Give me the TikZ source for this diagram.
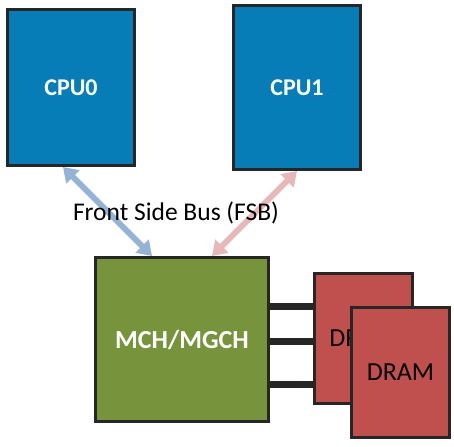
\documentclass[tikz,border=0pt]{standalone}
\usepackage{fontspec}
\setmainfont{Carlito}
\usetikzlibrary{arrows.meta}

\definecolor{cpublue}{HTML}{077DB8}
\definecolor{mchgreen}{HTML}{77933C}
\definecolor{dramred}{HTML}{C0504D}
\definecolor{edgegray}{HTML}{262626}
\definecolor{buslblue}{HTML}{95B3D7}
\definecolor{buspink}{HTML}{E6B9B8}

\tikzset{
  chip/.style={draw=edgegray, line width=3pt, inner sep=0pt, font=\fontsize{26}{30}\selectfont},
  proc/.style={chip, fill=cpublue, text=white, font=\fontsize{24}{28}\selectfont\bfseries, minimum width=127pt},
  mem/.style={chip, fill=dramred, text=black, minimum width=98pt, minimum height=130pt},
  fsb/.style={line width=6pt, {Triangle[length=14pt,width=18pt]}-{Triangle[length=14pt,width=18pt]}},
  wire/.style={edgegray, line width=7pt}
}

\begin{document}
\begin{tikzpicture}[x=1pt, y=-1pt]
 \useasboundingbox (0,0) rectangle (454,446);

 \node[proc, minimum height=156pt] (cpu0) at (71,87.5) {CPU0};
 \node[proc, minimum height=164pt] (cpu1) at (297,87.5) {CPU1};
 \node[chip, fill=mchgreen, text=white, font=\fontsize{26}{30}\selectfont\bfseries,
       minimum width=173pt, minimum height=164pt] (mch) at (182,339.5) {MCH/MGCH};

 % memory channels
 \foreach \y in {306,341,384}
   \draw[wire] (mch.east |- 0,\y) -- (313,\y);
 \node[mem] (dram0) at (363,338.5) {DRAM};
 \node[mem] (dram1) at (400.5,372) {DRAM};

 % front side bus
 \draw[fsb, buslblue] ([xshift=-8pt]cpu0.south) -- ([xshift=-30pt]mch.north);
 \draw[fsb, buspink] (cpu1.south) -- ([xshift=30pt]mch.north);
 \node[font=\fontsize{25.5}{30}\selectfont] (fsblabel) at (176,213) {Front Side Bus (FSB)};
\end{tikzpicture}
\end{document}
